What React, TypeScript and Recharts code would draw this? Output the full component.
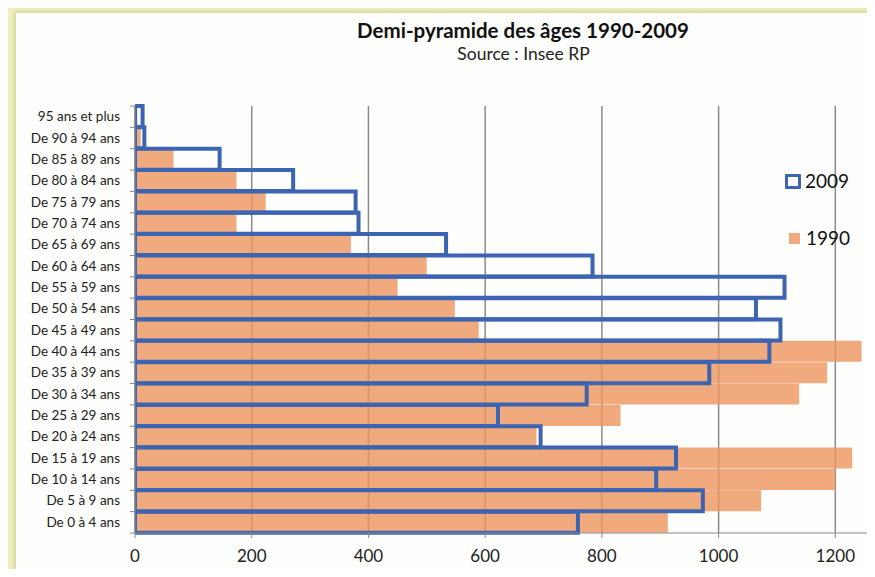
import React from 'react';
import { BarChart, Bar, XAxis, YAxis, CartesianGrid } from 'recharts';

// age groups, bottom to top
const ageGroups = [
  'De 0 à 4 ans', 'De 5 à 9 ans', 'De 10 à 14 ans', 'De 15 à 19 ans', 'De 20 à 24 ans',
  'De 25 à 29 ans', 'De 30 à 34 ans', 'De 35 à 39 ans', 'De 40 à 44 ans', 'De 45 à 49 ans',
  'De 50 à 54 ans', 'De 55 à 59 ans', 'De 60 à 64 ans', 'De 65 à 69 ans', 'De 70 à 74 ans',
  'De 75 à 79 ans', 'De 80 à 84 ans', 'De 85 à 89 ans', 'De 90 à 94 ans', '95 ans et plus',
];
const pop2009 = [759, 973, 893, 927, 695, 622, 774, 984, 1087, 1106, 1064, 1113, 784, 533, 383, 378, 271, 145, 16, 13];
const pop1990 = [913, 1073, 1200, 1229, 688, 832, 1138, 1186, 1245, 589, 548, 450, 500, 370, 174, 224, 174, 66, 10, 4];
const xTicks = [0, 200, 400, 600, 800, 1000, 1200];

const data = ageGroups.map((age, i) => ({ age, p1990: pop1990[i], p2009: pop2009[i] }));

const W = 875;
const H = 577;
const PLOT_TOP = 106;
const PLOT_BOTTOM = 533;
const BAND = (PLOT_BOTTOM - PLOT_TOP) / ageGroups.length;
const BAR = 21;
const FONT = 'Lato, "Open Sans", sans-serif';
const BLUE = '#3d64b0';
const ORANGE = '#ec955e';

const AgeTick = (props: any) => {
  const { x, y, payload } = props;
  const idx = ageGroups.indexOf(payload.value);
  return (
    <g>
      <text x={x} y={y} dy={4.5} textAnchor="end" fontSize={13.5} fill="#222" fontFamily={FONT}>
        {payload.value}
      </text>
      <line x1={x + 10} x2={x + 15} y1={y + BAND / 2} y2={y + BAND / 2} stroke="#888" />
      {idx === ageGroups.length - 1 && (
        <line x1={x + 10} x2={x + 15} y1={y - BAND / 2} y2={y - BAND / 2} stroke="#888" />
      )}
    </g>
  );
};

export default function App() {
  return (
    <div style={{ position: 'relative', width: W, height: H, margin: -8, background: '#eef0bc', overflow: 'hidden', fontFamily: FONT }}>
      <div style={{ position: 'absolute', left: 16, top: 13, right: 0, bottom: 0, background: '#fefefc', boxShadow: '-2px -2px 4px rgba(180,180,120,0.4)' }} />
      <div style={{ position: 'absolute', left: 0, top: 0 }}>
        <BarChart
          width={W}
          height={H}
          data={data}
          layout="vertical"
          margin={{ top: PLOT_TOP, right: 0, bottom: 0, left: 0 }}
          barGap={-BAR}
        >
          <CartesianGrid horizontal={false} stroke="#8a8a8a" strokeWidth={1.5} />
          <XAxis
            type="number"
            domain={[0, 1268]}
            ticks={xTicks}
            allowDataOverflow
            height={H - PLOT_BOTTOM}
            stroke="#888"
            tickSize={5}
            tickMargin={12}
            tick={{ fontSize: 17, fill: '#222', fontFamily: FONT }}
          />
          <YAxis
            type="category"
            dataKey="age"
            reversed
            width={135}
            stroke="#888"
            tickLine={false}
            tickSize={5}
            tickMargin={10}
            interval={0}
            tick={<AgeTick />}
          />
          <Bar dataKey="p1990" barSize={BAR} fill={ORANGE} fillOpacity={0.8} isAnimationActive={false} />
          <Bar dataKey="p2009" barSize={BAR} fill="none" stroke={BLUE} strokeWidth={4} isAnimationActive={false} />
        </BarChart>
      </div>
      <div style={{ position: 'absolute', left: 0, width: 1046, top: 19, textAlign: 'center', fontSize: 20.5, fontWeight: 700, color: '#111', lineHeight: '22px' }}>
        Demi-pyramide des âges 1990-2009
      </div>
      <div style={{ position: 'absolute', left: 0, width: 1047, top: 44, textAlign: 'center', fontSize: 17.5, color: '#222', lineHeight: '20px' }}>
        Source : Insee RP
      </div>
      <div style={{ position: 'absolute', left: 785, top: 169, fontSize: 19, color: '#111', lineHeight: '24px' }}>
        <div style={{ display: 'flex', alignItems: 'center', height: 24 }}>
          <span style={{ display: 'inline-block', width: 10, height: 9, border: `3.5px solid ${BLUE}`, borderRadius: 1, marginRight: 4 }} />
          2009
        </div>
        <div style={{ display: 'flex', alignItems: 'center', height: 24, marginTop: 33 }}>
          <span style={{ display: 'inline-block', width: 11, height: 11, background: ORANGE, opacity: 0.8, marginLeft: 4, marginRight: 6 }} />
          1990
        </div>
      </div>
    </div>
  );
}
